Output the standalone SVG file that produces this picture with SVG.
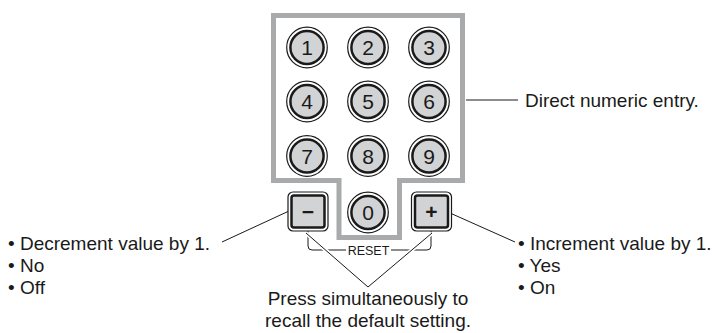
<svg xmlns="http://www.w3.org/2000/svg" width="719" height="333" viewBox="0 0 719 333">
<style>
.t{font-family:"Liberation Sans",Arial,sans-serif;font-size:19px;fill:#1a1a1a}
.d{font-family:"Liberation Sans",Arial,sans-serif;font-size:21px;fill:#1a1a1a;text-anchor:middle}
.ln{stroke:#1a1a1a;stroke-width:1;fill:none}
.ring{fill:#fff;stroke:#1a1a1a;stroke-width:1.2}
.core{fill:#d2d3d5;stroke:#1a1a1a;stroke-width:2.5}
</style>
<defs>
<g id="btn"><circle r="20.3" class="ring"/><circle r="16.6" class="core"/></g>
<g id="sq"><rect x="-20" y="-19.5" width="40" height="39" rx="5" class="ring"/><rect x="-16.5" y="-16" width="33" height="32" rx="2.5" class="core"/></g>
</defs>
<g id="frame"><path d="M273.5,15.5 H462.5 V180.5 H399.5 V237.5 H339 V180.5 H273.5 Z" fill="#fff" stroke="#a9aaac" stroke-width="5"/></g>
<g id="connectors">
<line x1="466" y1="100" x2="518" y2="100" class="ln"/>
<line x1="222" y1="242" x2="289" y2="211" class="ln" stroke-width="0.8"/>
<line x1="450" y1="213" x2="515" y2="242" class="ln" stroke-width="0.8"/>
<path d="M308,231 V246 Q308,250 312,250 H346 M391,250 H427 Q431,250 431,246 V231" class="ln" stroke-width="1.5"/>
<path d="M306,233 L368,287 L432,233" fill="none" stroke="#fff" stroke-width="4"/>
<path d="M306,233 L368,287 L432,233" class="ln" stroke-width="1"/>
</g>
<g id="b1"><use href="#btn" x="307" y="47.5"/><text class="d" x="307" y="55">1</text></g>
<g id="b2"><use href="#btn" x="368" y="47.5"/><text class="d" x="368" y="55">2</text></g>
<g id="b3"><use href="#btn" x="429" y="47.5"/><text class="d" x="429" y="55">3</text></g>
<g id="b4"><use href="#btn" x="307" y="101.5"/><text class="d" x="307" y="109">4</text></g>
<g id="b5"><use href="#btn" x="368" y="101.5"/><text class="d" x="368" y="109">5</text></g>
<g id="b6"><use href="#btn" x="429" y="101.5"/><text class="d" x="429" y="109">6</text></g>
<g id="b7"><use href="#btn" x="307" y="156"/><text class="d" x="307" y="163.5">7</text></g>
<g id="b8"><use href="#btn" x="368" y="156"/><text class="d" x="368" y="163.5">8</text></g>
<g id="b9"><use href="#btn" x="429" y="156"/><text class="d" x="429" y="163.5">9</text></g>
<g id="b0"><use href="#btn" x="368" y="212.5"/><text class="d" x="368" y="220">0</text></g>
<g id="bminus"><use href="#sq" x="308" y="211.5"/><text class="d" x="308" y="218.5" font-weight="bold">−</text></g>
<g id="bplus"><use href="#sq" x="431.5" y="211.5"/><text class="d" x="431.5" y="219" font-weight="bold">+</text></g>
<g id="reset"><text x="368.5" y="254.5" font-family="Liberation Sans,Arial,sans-serif" font-size="12.5" fill="#1a1a1a" text-anchor="middle">RESET</text></g>
<g id="direct"><text class="t" x="525" y="107">Direct numeric entry.</text></g>
<g id="dec"><text class="t" x="8" y="250">• Decrement value by 1.</text><text class="t" x="8" y="272">• No</text><text class="t" x="8" y="294">• Off</text></g>
<g id="inc"><text class="t" x="518" y="250">• Increment value by 1.</text><text class="t" x="518" y="272">• Yes</text><text class="t" x="518" y="294">• On</text></g>
<g id="press"><text class="t" x="368" y="305" text-anchor="middle">Press simultaneously to</text><text class="t" x="368" y="327" text-anchor="middle">recall the default setting.</text></g>
</svg>
